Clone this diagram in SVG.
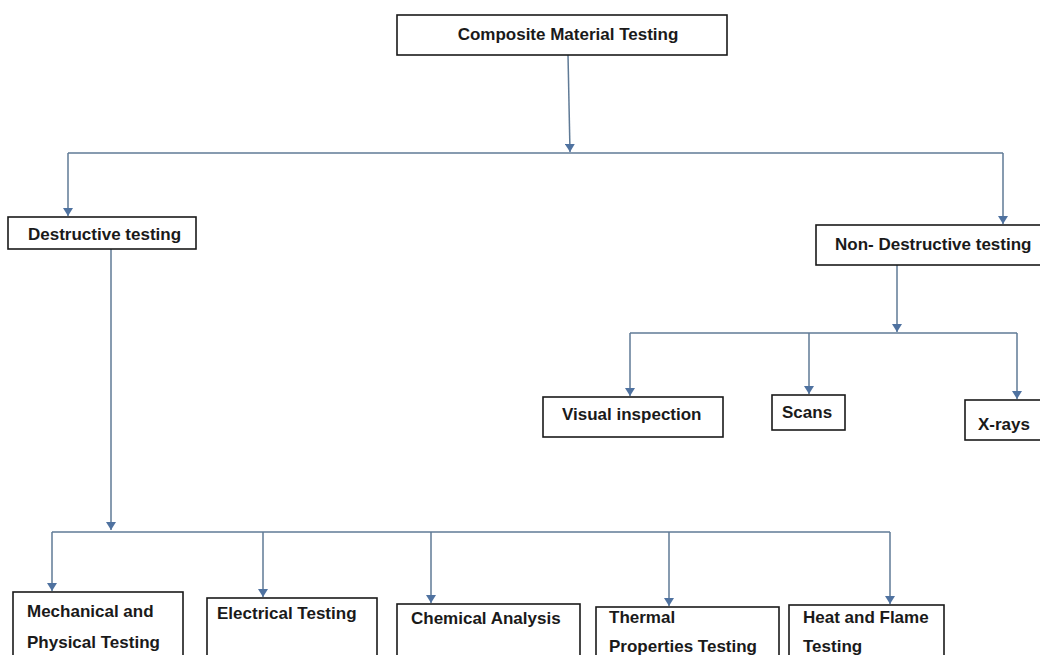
<svg xmlns="http://www.w3.org/2000/svg" width="1040" height="655" viewBox="0 0 1040 655">
<style>
.box{fill:#fff;stroke:#1a1a1a;stroke-width:1.6}
.lbl{font-family:"Liberation Sans",Arial,sans-serif;font-weight:bold;font-size:17px;fill:#1a1a1a}
.con{fill:none;stroke:#5f7a96;stroke-width:1.5}
.arr{fill:none;stroke:#5f7a96;stroke-width:1.5;marker-end:url(#ah)}
</style>
<defs>
<marker id="ah" markerWidth="10" markerHeight="10" refX="8" refY="5" orient="auto" markerUnits="userSpaceOnUse" viewBox="0 0 10 10">
<path d="M0,0 L8,5 L0,10 Z" fill="#4f72a0"/>
</marker>
</defs>
<rect width="1040" height="655" fill="#fff"/>
<g id="connectors">
<path class="arr" d="M568,55 L570,152"/>
<path class="con" d="M68,153 L1003,153"/>
<path class="arr" d="M68,153 L68,216"/>
<path class="arr" d="M1003,153 L1003,224"/>
<path class="arr" d="M897,265 L897,332"/>
<path class="con" d="M630,333 L1017,333"/>
<path class="arr" d="M630,333 L630,396"/>
<path class="arr" d="M809,333 L809,394"/>
<path class="arr" d="M1017,333 L1017,399"/>
<path class="arr" d="M111,249 L111,530"/>
<path class="con" d="M52,532 L890,532"/>
<path class="arr" d="M52,532 L52,591"/>
<path class="arr" d="M263,532 L263,597"/>
<path class="arr" d="M431,532 L431,603"/>
<path class="arr" d="M669,532 L669,606"/>
<path class="arr" d="M890,532 L890,604"/>
</g>
<g id="composite"><rect class="box" x="397" y="15" width="330" height="40"/><text class="lbl" x="568" y="40" text-anchor="middle">Composite Material Testing</text></g>
<g id="destructive"><rect class="box" x="8" y="217" width="188" height="32"/><text class="lbl" x="28" y="240">Destructive testing</text></g>
<g id="nondestructive"><rect class="box" x="816" y="225" width="240" height="40"/><text class="lbl" x="835" y="250">Non- Destructive testing</text></g>
<g id="visual"><rect class="box" x="543" y="397" width="180" height="40"/><text class="lbl" x="562" y="420">Visual inspection</text></g>
<g id="scans"><rect class="box" x="772" y="395" width="73" height="35"/><text class="lbl" x="782" y="418">Scans</text></g>
<g id="xrays"><rect class="box" x="965" y="400" width="90" height="40"/><text class="lbl" x="978" y="430">X-rays</text></g>
<g id="mechanical"><rect class="box" x="13" y="592" width="170" height="80"/><text class="lbl" x="27" y="617">Mechanical and</text><text class="lbl" x="27" y="648">Physical Testing</text></g>
<g id="electrical"><rect class="box" x="207" y="598" width="170" height="80"/><text class="lbl" x="217" y="619">Electrical Testing</text></g>
<g id="chemical"><rect class="box" x="397" y="604" width="183" height="80"/><text class="lbl" x="411" y="624">Chemical Analysis</text></g>
<g id="thermal"><rect class="box" x="596" y="607" width="183" height="80"/><text class="lbl" x="609" y="623">Thermal</text><text class="lbl" x="609" y="652">Properties Testing</text></g>
<g id="heat"><rect class="box" x="789" y="605" width="155" height="80"/><text class="lbl" x="803" y="623">Heat and Flame</text><text class="lbl" x="803" y="652">Testing</text></g>
</svg>
